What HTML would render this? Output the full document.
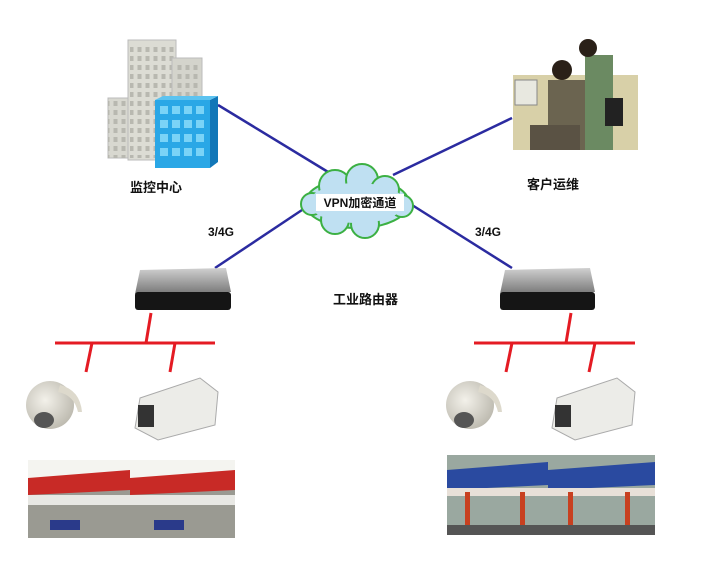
<!DOCTYPE html>
<html><head><meta charset="utf-8"><style>
html,body{margin:0;padding:0;background:#fff;width:718px;height:577px;overflow:hidden}
svg{display:block}
text{font-family:"Liberation Sans","Noto Sans CJK SC",sans-serif;font-weight:bold;fill:#111}
</style></head><body>
<svg width="718" height="577" viewBox="0 0 718 577">
<defs>
<linearGradient id="pg" x1="0" y1="0" x2="0" y2="1"><stop offset="0" stop-color="#d0d0d0"/><stop offset="1" stop-color="#777"/></linearGradient>
<radialGradient id="cam" cx="0.4" cy="0.4" r="0.7"><stop offset="0" stop-color="#f3f1ea"/><stop offset="1" stop-color="#b8b5aa"/></radialGradient>
<pattern id="win" width="8" height="9" patternUnits="userSpaceOnUse"><rect x="1.5" y="2" width="4" height="5" fill="#b8b8b0"/></pattern>
</defs>
<g stroke="#2b2ba0" stroke-width="2.5">
<line x1="218" y1="105" x2="333" y2="175"/>
<line x1="393" y1="175" x2="512" y2="118"/>
<line x1="302" y1="210" x2="215" y2="268"/>
<line x1="412" y1="205" x2="512" y2="268"/>
</g>
<g>
<rect x="108" y="98" width="22" height="60" fill="#d8d8d0" stroke="#bbb"/>
<rect x="108" y="98" width="22" height="60" fill="url(#win)"/>
<rect x="128" y="40" width="48" height="120" fill="#dcdcd4" stroke="#bbb"/>
<rect x="130" y="44" width="44" height="114" fill="url(#win)"/>
<rect x="172" y="58" width="30" height="102" fill="#d4d4cc" stroke="#bbb"/>
<rect x="174" y="62" width="26" height="96" fill="url(#win)"/>
<rect x="155" y="100" width="55" height="68" fill="#2aa7e6"/>
<polygon points="210,100 218,96 218,162 210,168" fill="#1277b8"/>
<polygon points="155,100 163,96 218,96 210,100" fill="#5cc3f0"/>
<g fill="#7ad3f7">
<rect x="160" y="106" width="8" height="8"/><rect x="172" y="106" width="8" height="8"/><rect x="184" y="106" width="8" height="8"/><rect x="196" y="106" width="8" height="8"/>
<rect x="160" y="120" width="8" height="8"/><rect x="172" y="120" width="8" height="8"/><rect x="184" y="120" width="8" height="8"/><rect x="196" y="120" width="8" height="8"/>
<rect x="160" y="134" width="8" height="8"/><rect x="172" y="134" width="8" height="8"/><rect x="184" y="134" width="8" height="8"/><rect x="196" y="134" width="8" height="8"/>
<rect x="160" y="148" width="8" height="8"/><rect x="172" y="148" width="8" height="8"/><rect x="184" y="148" width="8" height="8"/><rect x="196" y="148" width="8" height="8"/>
</g>
</g>
<g>
<rect x="513" y="75" width="125" height="75" fill="#d8d0a8"/>
<rect x="515" y="80" width="22" height="25" fill="#e8e8e0" stroke="#888"/>
<rect x="548" y="80" width="40" height="70" fill="#6b6450"/>
<circle cx="562" cy="70" r="10" fill="#2a2018"/>
<rect x="585" y="55" width="28" height="95" fill="#6b8a62"/>
<circle cx="588" cy="48" r="9" fill="#2a2018"/>
<rect x="605" y="98" width="18" height="28" fill="#222"/>
<rect x="530" y="125" width="50" height="25" fill="#5a5244"/>
</g>
<g fill="#bfe0f2" stroke="#3cb043" stroke-width="2">
<ellipse cx="357" cy="203" rx="52" ry="25"/>
<circle cx="335" cy="186" r="16"/><circle cx="362" cy="180" r="16"/><circle cx="385" cy="190" r="14"/>
<circle cx="335" cy="220" r="14"/><circle cx="365" cy="224" r="14"/><circle cx="312" cy="204" r="11"/><circle cx="402" cy="206" r="11"/>
</g>
<ellipse cx="357" cy="203" rx="48" ry="20" fill="#bfe0f2"/>
<rect x="316" y="194" width="88" height="17" fill="#fff"/>
<text x="360" y="207" font-size="12" text-anchor="middle">VPN加密通道</text>
<text x="130" y="192" font-size="13">监控中心</text>
<text x="527" y="189" font-size="13">客户运维</text>
<text x="208" y="236" font-size="12">3/4G</text>
<text x="475" y="236" font-size="12">3/4G</text>
<text x="333" y="304" font-size="13">工业路由器</text>
<g>
<polygon points="140,270 226,268 231,292 135,294" fill="url(#pg)"/>
<rect x="135" y="292" width="96" height="18" rx="3" fill="#151515"/>
<polygon points="505,270 590,268 595,292 500,294" fill="url(#pg)"/>
<rect x="500" y="292" width="95" height="18" rx="3" fill="#151515"/>
</g>
<g stroke="#e41b23" stroke-width="3">
<line x1="55" y1="343" x2="215" y2="343"/>
<line x1="151" y1="313" x2="146" y2="343"/>
<line x1="92" y1="343" x2="86" y2="372"/>
<line x1="175" y1="343" x2="170" y2="372"/>
<line x1="474" y1="343" x2="635" y2="343"/>
<line x1="571" y1="313" x2="566" y2="343"/>
<line x1="512" y1="343" x2="506" y2="372"/>
<line x1="595" y1="343" x2="589" y2="372"/>
</g>
<g>
<ellipse cx="50" cy="405" rx="24" ry="24" fill="url(#cam)"/>
<path d="M60,385 Q80,390 82,412 L78,412 Q74,395 58,392Z" fill="#ddd9cc"/>
<ellipse cx="44" cy="420" rx="10" ry="8" fill="#555"/>
<ellipse cx="470" cy="405" rx="24" ry="24" fill="url(#cam)"/>
<path d="M480,385 Q500,390 502,412 L498,412 Q494,395 478,392Z" fill="#ddd9cc"/>
<ellipse cx="464" cy="420" rx="10" ry="8" fill="#555"/>
</g>
<g>
<polygon points="140,398 200,378 218,392 215,425 158,440 135,428" fill="#ecece8" stroke="#aaa"/>
<rect x="138" y="405" width="16" height="22" fill="#333"/>
<polygon points="557,398 617,378 635,392 632,425 575,440 552,428" fill="#ecece8" stroke="#aaa"/>
<rect x="555" y="405" width="16" height="22" fill="#333"/>
</g>
<g>
<rect x="28" y="482" width="102" height="56" fill="#9a9a92"/>
<rect x="130" y="482" width="105" height="56" fill="#9a9a92"/>
<rect x="28" y="460" width="207" height="22" fill="#f4f4f0"/>
<polygon points="28,478 130,470 130,490 28,495" fill="#c82a26"/>
<polygon points="130,478 235,470 235,490 130,495" fill="#c82a26"/>
<rect x="28" y="495" width="207" height="10" fill="#e8e8e4"/>
<rect x="50" y="520" width="30" height="10" fill="#2a3a8a"/>
<rect x="154" y="520" width="30" height="10" fill="#2a3a8a"/>
</g>
<g>
<rect x="447" y="455" width="208" height="80" fill="#9aa8a0"/>
<polygon points="447,470 548,462 548,485 447,490" fill="#2a4aa0"/>
<polygon points="548,470 655,462 655,485 548,490" fill="#2a4aa0"/>
<rect x="447" y="488" width="208" height="8" fill="#e8e0d8"/>
<rect x="465" y="492" width="5" height="43" fill="#c84020"/><rect x="520" y="492" width="5" height="43" fill="#c84020"/>
<rect x="568" y="492" width="5" height="43" fill="#c84020"/><rect x="625" y="492" width="5" height="43" fill="#c84020"/>
<rect x="447" y="525" width="208" height="10" fill="#555"/>
</g>
</svg>
</body></html>
